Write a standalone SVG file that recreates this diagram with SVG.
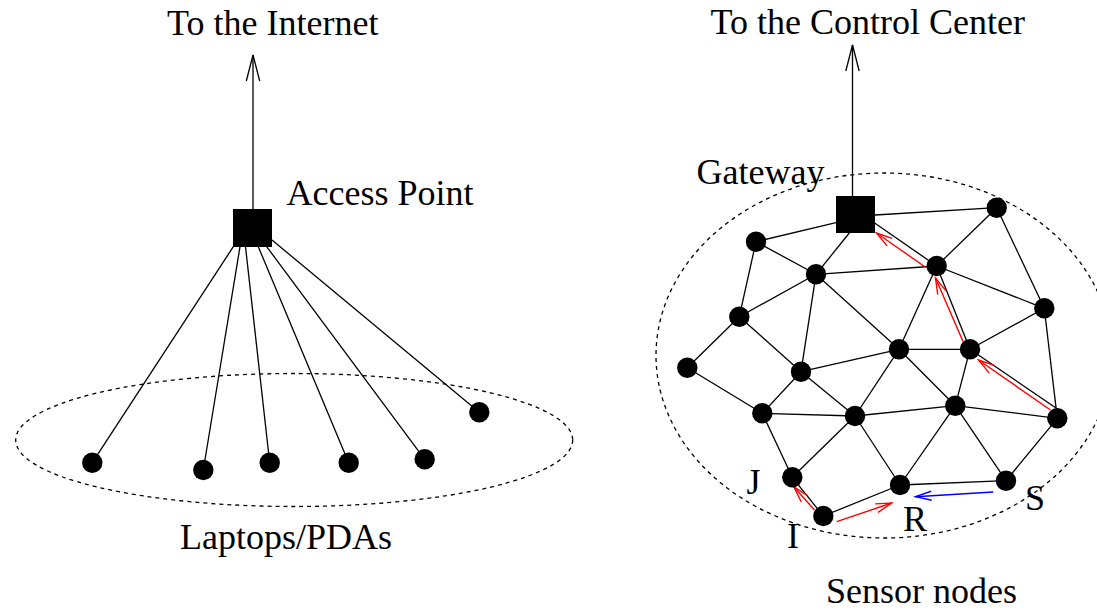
<svg xmlns="http://www.w3.org/2000/svg" width="1097" height="610" viewBox="0 0 1097 610">
  <style>
    .edge { stroke: #000; stroke-width: 1.3; fill: none; }
    .zone { stroke: #000; stroke-width: 1.3; fill: none; stroke-dasharray: 4 4; }
    .node { fill: #000; }
    .lbl { font-family: "Liberation Serif", "Times New Roman", serif; font-size: 36px; fill: #000; }
    .red { stroke: #ff0000; stroke-width: 1.4; fill: none; marker-end: url(#headRed); }
    .blue { stroke: #0000ff; stroke-width: 1.4; fill: none; marker-end: url(#headBlue); }
    .up { stroke: #000; stroke-width: 1.3; fill: none; marker-end: url(#headBlack); }
  </style>
  <defs>
    <marker id="headBlack" markerUnits="userSpaceOnUse" viewBox="-28 -9 30 18" markerWidth="30" markerHeight="18" refX="0" refY="0" orient="auto">
      <path d="M-26,-6.7 L0,0 L-26,6.7" fill="none" stroke="#000" stroke-width="1.3"/>
    </marker>
    <marker id="headRed" markerUnits="userSpaceOnUse" viewBox="-18 -7 20 14" markerWidth="20" markerHeight="14" refX="0" refY="0" orient="auto">
      <path d="M-16,-4.5 L0,0 L-16,4.5" fill="none" stroke="#ff0000" stroke-width="1.4"/>
    </marker>
    <marker id="headBlue" markerUnits="userSpaceOnUse" viewBox="-18 -7 20 14" markerWidth="20" markerHeight="14" refX="0" refY="0" orient="auto">
      <path d="M-16,-4.5 L0,0 L-16,4.5" fill="none" stroke="#0000ff" stroke-width="1.4"/>
    </marker>
  </defs>

  <!-- dotted coverage areas -->
  <ellipse class="zone" cx="294.2" cy="440" rx="278.5" ry="66.5"/>
  <ellipse class="zone" cx="884" cy="355.5" rx="228" ry="182.5"/>

  <!-- connectors -->
  <g id="connectors">
    <!-- access point uplink and wireless links -->
    <line class="up" x1="253" y1="209" x2="253" y2="55"/>
    <line class="edge" x1="233.3" y1="246.7" x2="92.3" y2="462.7"/>
    <line class="edge" x1="240" y1="246.7" x2="203.3" y2="470"/>
    <line class="edge" x1="245.5" y1="246.7" x2="269.7" y2="462.7"/>
    <line class="edge" x1="258.3" y1="246.7" x2="348.7" y2="462.7"/>
    <line class="edge" x1="266.7" y1="246.7" x2="424.7" y2="459.3"/>
    <line class="edge" x1="272" y1="240" x2="479.3" y2="412.3"/>

    <!-- gateway uplink -->
    <line class="up" x1="852.5" y1="196" x2="852.5" y2="45"/>

    <!-- gateway links -->
    <line class="edge" x1="836" y1="222.7" x2="756" y2="241.7"/>
    <line class="edge" x1="849.3" y1="233" x2="816" y2="274.3"/>
    <line class="edge" x1="875" y1="215" x2="996.7" y2="207.7"/>
    <line class="edge" x1="875" y1="223.3" x2="936.7" y2="266"/>

    <!-- sensor mesh -->
    <line class="edge" x1="756" y1="241.7" x2="816" y2="274.3"/>
    <line class="edge" x1="756" y1="241.7" x2="739.3" y2="316.7"/>
    <line class="edge" x1="816" y1="274.3" x2="739.3" y2="316.7"/>
    <line class="edge" x1="816" y1="274.3" x2="936.7" y2="266"/>
    <line class="edge" x1="816" y1="274.3" x2="801" y2="371.7"/>
    <line class="edge" x1="816" y1="274.3" x2="899" y2="349.3"/>
    <line class="edge" x1="739.3" y1="316.7" x2="687.3" y2="367.7"/>
    <line class="edge" x1="739.3" y1="316.7" x2="801" y2="371.7"/>
    <line class="edge" x1="996.7" y1="207.7" x2="936.7" y2="266"/>
    <line class="edge" x1="996.7" y1="207.7" x2="1044.3" y2="308.3"/>
    <line class="edge" x1="936.7" y1="266" x2="899" y2="349.3"/>
    <line class="edge" x1="936.7" y1="266" x2="970" y2="349.3"/>
    <line class="edge" x1="936.7" y1="266" x2="1044.3" y2="308.3"/>
    <line class="edge" x1="1044.3" y1="308.3" x2="970" y2="349.3"/>
    <line class="edge" x1="1044.3" y1="308.3" x2="1057.3" y2="418.3"/>
    <line class="edge" x1="899" y1="349.3" x2="970" y2="349.3"/>
    <line class="edge" x1="899" y1="349.3" x2="801" y2="371.7"/>
    <line class="edge" x1="899" y1="349.3" x2="855" y2="416"/>
    <line class="edge" x1="899" y1="349.3" x2="955.3" y2="405.7"/>
    <line class="edge" x1="970" y1="349.3" x2="955.3" y2="405.7"/>
    <line class="edge" x1="970" y1="349.3" x2="1056" y2="408"/>
    <line class="edge" x1="687.3" y1="367.7" x2="762.3" y2="413.3"/>
    <line class="edge" x1="801" y1="371.7" x2="762.3" y2="413.3"/>
    <line class="edge" x1="801" y1="371.7" x2="855" y2="416"/>
    <line class="edge" x1="762.3" y1="413.3" x2="855" y2="416"/>
    <line class="edge" x1="762.3" y1="413.3" x2="792.3" y2="477.3"/>
    <line class="edge" x1="855" y1="416" x2="792.3" y2="477.3"/>
    <line class="edge" x1="855" y1="416" x2="955.3" y2="405.7"/>
    <line class="edge" x1="855" y1="416" x2="900" y2="485"/>
    <line class="edge" x1="955.3" y1="405.7" x2="900" y2="485"/>
    <line class="edge" x1="955.3" y1="405.7" x2="1006" y2="480.7"/>
    <line class="edge" x1="955.3" y1="405.7" x2="1057.3" y2="418.3"/>
    <line class="edge" x1="1057.3" y1="418.3" x2="1006" y2="480.7"/>
    <line class="edge" x1="900" y1="485" x2="1006" y2="480.7"/>
    <line class="edge" x1="823.3" y1="516" x2="900" y2="485"/>
    <line class="edge" x1="823.3" y1="516" x2="792.3" y2="477.3"/>

    <!-- forwarding paths -->
    <line class="red" x1="1050.5" y1="410" x2="978.5" y2="360"/>
    <line class="red" x1="963" y1="341.5" x2="935.5" y2="278"/>
    <line class="red" x1="926" y1="267.5" x2="876.5" y2="233"/>
    <line class="red" x1="814.5" y1="510" x2="794" y2="487"/>
    <line class="red" x1="836.7" y1="521.7" x2="891.7" y2="503"/>
    <line class="blue" x1="993.3" y1="492" x2="915.5" y2="496.7"/>
  </g>

  <!-- access point side -->
  <g id="access-point"><rect class="node" x="233" y="209" width="39" height="38"/></g>
  <g id="laptop-1"><circle class="node" cx="92.3" cy="462.7" r="10.2"/></g>
  <g id="laptop-2"><circle class="node" cx="203.3" cy="470" r="10.2"/></g>
  <g id="laptop-3"><circle class="node" cx="269.7" cy="462.7" r="10.2"/></g>
  <g id="laptop-4"><circle class="node" cx="348.7" cy="462.7" r="10.2"/></g>
  <g id="laptop-5"><circle class="node" cx="424.7" cy="459.3" r="10.2"/></g>
  <g id="laptop-6"><circle class="node" cx="479.3" cy="412.3" r="10.2"/></g>

  <!-- sensor field -->
  <g id="gateway"><rect class="node" x="836" y="196" width="39" height="37"/></g>
  <g id="sensor-a"><circle class="node" cx="756" cy="241.7" r="10.2"/></g>
  <g id="sensor-b"><circle class="node" cx="816" cy="274.3" r="10.2"/></g>
  <g id="sensor-c"><circle class="node" cx="739.3" cy="316.7" r="10.2"/></g>
  <g id="sensor-d"><circle class="node" cx="687.3" cy="367.7" r="10.2"/></g>
  <g id="sensor-e"><circle class="node" cx="801" cy="371.7" r="10.2"/></g>
  <g id="sensor-f"><circle class="node" cx="996.7" cy="207.7" r="10.2"/></g>
  <g id="sensor-g"><circle class="node" cx="936.7" cy="266" r="10.2"/></g>
  <g id="sensor-h"><circle class="node" cx="1044.3" cy="308.3" r="10.2"/></g>
  <g id="sensor-k"><circle class="node" cx="899" cy="349.3" r="10.2"/></g>
  <g id="sensor-l"><circle class="node" cx="970" cy="349.3" r="10.2"/></g>
  <g id="sensor-m"><circle class="node" cx="762.3" cy="413.3" r="10.2"/></g>
  <g id="sensor-n"><circle class="node" cx="855" cy="416" r="10.2"/></g>
  <g id="sensor-o"><circle class="node" cx="955.3" cy="405.7" r="10.2"/></g>
  <g id="sensor-p"><circle class="node" cx="1057.3" cy="418.3" r="10.2"/></g>
  <g id="sensor-j"><circle class="node" cx="792.3" cy="477.3" r="10.2"/></g>
  <g id="sensor-i"><circle class="node" cx="823.3" cy="516" r="10.2"/></g>
  <g id="sensor-r"><circle class="node" cx="900" cy="485" r="10.2"/></g>
  <g id="sensor-s"><circle class="node" cx="1006" cy="480.7" r="10.2"/></g>

  <!-- labels -->
  <g id="labels">
    <text class="lbl" x="167" y="35">To the Internet</text>
    <text class="lbl" x="286.5" y="205">Access Point</text>
    <text class="lbl" x="180" y="549">Laptops/PDAs</text>
    <text class="lbl" x="710.5" y="33.5">To the Control Center</text>
    <text class="lbl" x="696.5" y="184">Gateway</text>
    <text class="lbl" x="826" y="603">Sensor nodes</text>
    <text class="lbl" x="746.5" y="493.5">J</text>
    <text class="lbl" x="787" y="548.3">I</text>
    <text class="lbl" x="903" y="530.7">R</text>
    <text class="lbl" x="1025" y="510">S</text>
  </g>
</svg>
